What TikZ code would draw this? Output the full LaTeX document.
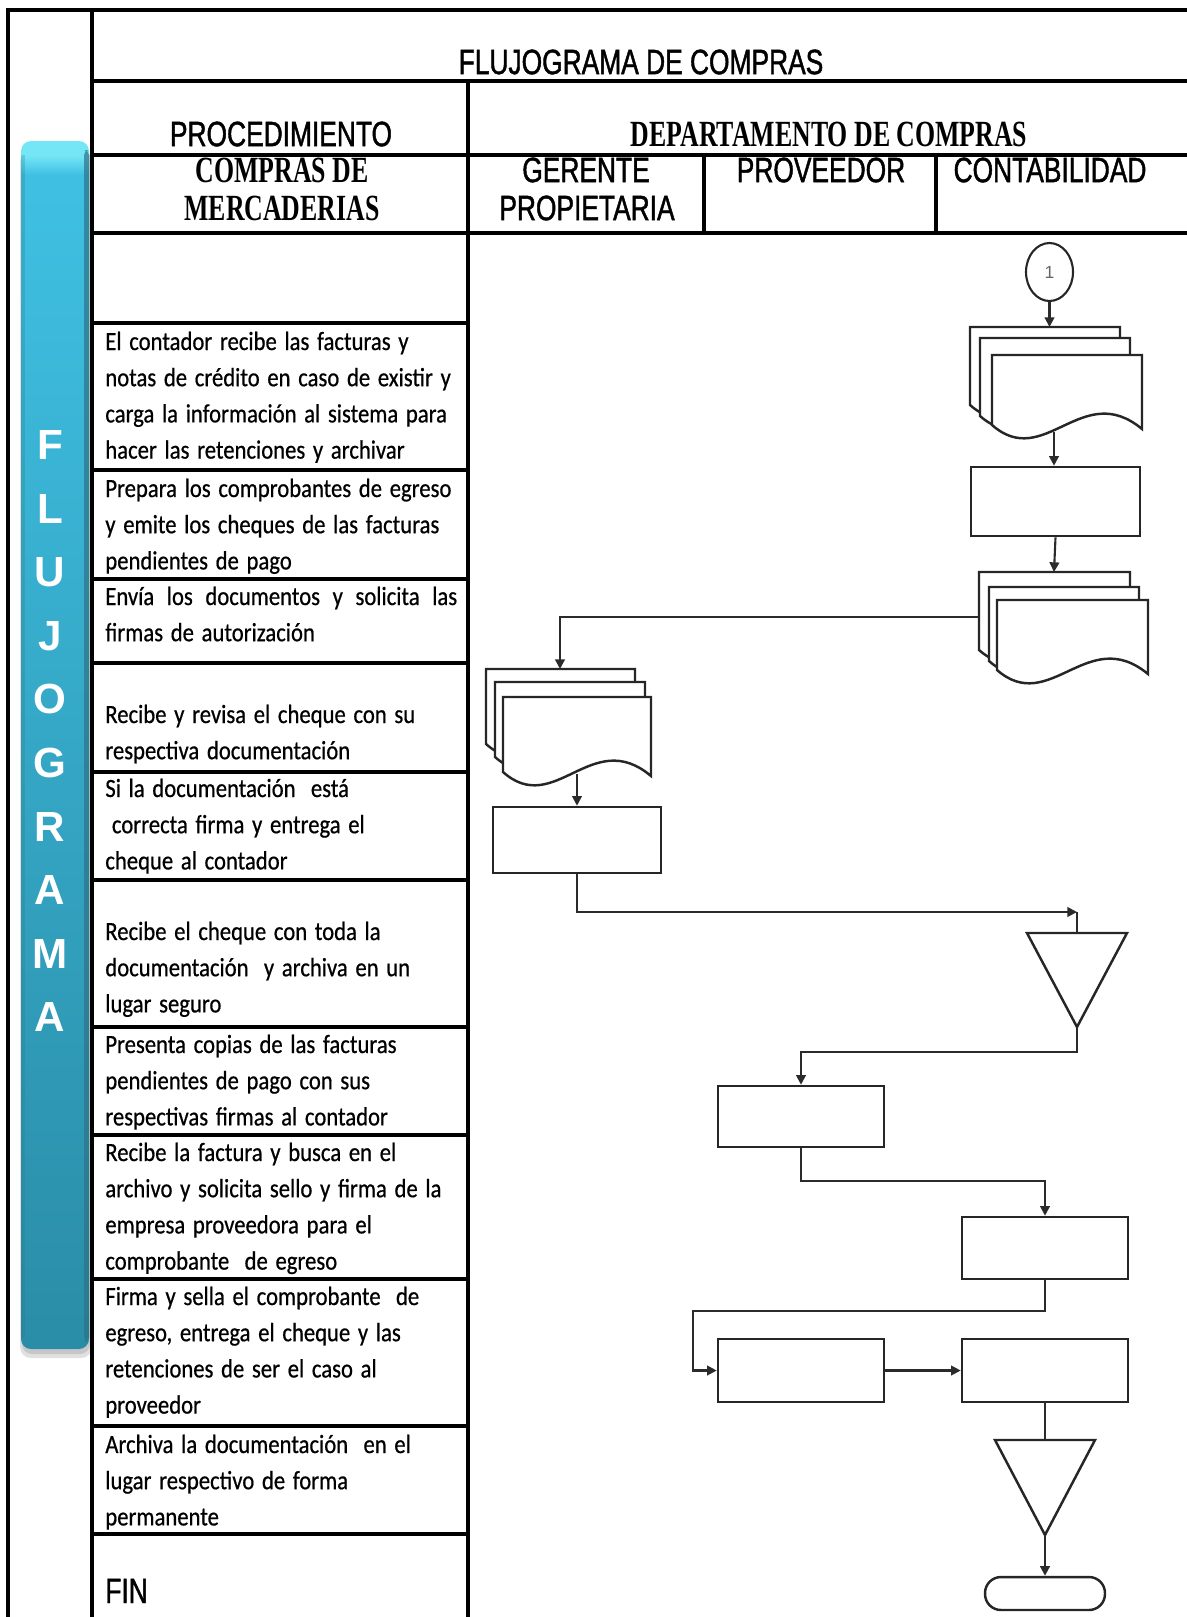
\documentclass[tikz,border=0pt]{standalone}
\usepackage{fontspec}
\setmainfont{Liberation Sans}
\newfontfamily\hsans[FakeStretch=0.75,FakeBold=1.2]{Liberation Sans}
\newfontfamily\hserif[FakeStretch=0.70]{Liberation Serif}
\newfontfamily\bodyf[FakeStretch=0.86,WordSpace=1.5,FakeBold=0.6]{Carlito}
\usetikzlibrary{arrows.meta,shapes.geometric,calc}
\definecolor{barTop}{HTML}{3FC0E3}
\definecolor{barBot}{HTML}{2A8DA7}
\definecolor{barHi}{HTML}{74E6F6}
\definecolor{barEdge}{HTML}{2A7488}
\definecolor{lineC}{HTML}{2B2B2B}
\pgfdeclareverticalshading{barsh}{100bp}{color(0bp)=(barBot); color(25bp)=(barBot); color(73.6bp)=(barTop); color(74.4bp)=(barHi); color(100bp)=(barHi)}
\tikzset{
 tline/.style={line width=2.2pt, line cap=rect},
 hs/.style={font=\hsans\fontsize{20}{24}\selectfont, inner sep=0pt},
 hsr/.style={font=\hserif\bfseries\fontsize{21}{25}\selectfont, inner sep=0pt},
 body/.style={anchor=base west, inner sep=0pt, font=\bodyf\fontsize{15}{20.6}\selectfont},
 proc/.style={draw=black!85, line width=1.5pt, fill=white, minimum width=3.32cm, minimum height=1.26cm, inner sep=0pt},
 conn/.style={draw=lineC, line width=1.2pt},
 arr/.style={conn, -{Triangle[length=5.5pt,width=5.5pt]}},
 sheet/.style={draw=black!85, line width=1.4pt, fill=white, line join=miter},
 tri/.style={draw=black!85, line width=1.4pt, fill=white},
 barletter/.style={text=white, font=\bfseries\fontsize{24}{28}\selectfont, inner sep=0pt},
}
\newcommand{\docsheet}[4]{%
 \path[sheet] (#1,#2+#4) -- (#1,#2) -- (#1+#3,#2) -- (#1+#3,#2+#4+4) .. controls (#1+0.6*#3,#2+#4-46) and (#1+0.35*#3,#2+#4+46) .. (#1,#2+#4) -- cycle;}
\begin{document}
\begin{tikzpicture}[x=0.02cm,y=-0.02cm]
\useasboundingbox (0,0) rectangle (1187,1617);
% ---------- blue bar ----------
\fill[black!12, rounded corners=0.22cm] (20,150) rectangle (92,1358);
\fill[black!22, rounded corners=0.2cm] (22,148) rectangle (90,1354);
\shade[shading=barsh, rounded corners=0.2cm] (21,141) rectangle (89,1349);
\fill[barEdge, opacity=0.7, rounded corners=0.1cm] (84,150) rectangle (89,1342);
\fill[barEdge, opacity=0.25] (21,155) rectangle (25,1338);
\foreach \l [count=\i from 0] in {F,L,U,J,O,G,R,A,M,A}
  \node[barletter] (bar\i) at (50,{445+63.6*\i}) {\l};
% ---------- table ----------
\draw[tline] (8,1617) -- (8,10) -- (1187,10);
\draw[tline] (92,10) -- (92,1617);
\draw[tline] (92,81) -- (1187,81);
\draw[tline] (468,81) -- (468,1617);
\draw[tline] (92,155) -- (1187,155);
\draw[tline] (704,155) -- (704,233);
\draw[tline] (936,155) -- (936,233);
\draw[tline] (92,233) -- (1187,233);
\foreach \yy in {323,470,579,663,772,880,1027,1135,1279,1426,1534}
  \draw[tline] (92,\yy) -- (468,\yy);
% ---------- headings ----------
\node[hs] (title) at (641,62) {FLUJOGRAMA DE COMPRAS};
\node[hs] (hproc) at (281,134) {PROCEDIMIENTO};
\node[hsr] (hdep) at (829,134) {DEPARTAMENTO DE COMPRAS};
\node[hsr] (hcomp1) at (282,170) {COMPRAS DE};
\node[hsr] (hcomp2) at (282,208) {MERCADERIAS};
\node[hs] (hger1) at (586,170) {GERENTE};
\node[hs] (hger2) at (587,208) {PROPIETARIA};
\node[hs] (hprov) at (821,170) {PROVEEDOR};
\node[hs] (hcont) at (1050,170) {CONTABILIDAD};
% ---------- procedure text ----------
\node[body] (p2) at (105,350) {\begin{tabular}[t]{@{}l@{}}El contador recibe las facturas y\\ notas de crédito en caso de existir y\\ carga la información al sistema para\\ hacer las retenciones y archivar\end{tabular}};
\node[body] (p3) at (105,497) {\begin{tabular}[t]{@{}l@{}}Prepara los comprobantes de egreso\\ y emite los cheques de las facturas\\ pendientes de pago\end{tabular}};
\node[body] (p4) at (105,605) {\begin{tabular}[t]{@{}l@{}}\makebox[7.04cm][s]{Envía los documentos y solicita las}\\ firmas de autorización\end{tabular}};
\node[body] (p5) at (105,723) {\begin{tabular}[t]{@{}l@{}}Recibe y revisa el cheque con su\\ respectiva documentación\end{tabular}};
\node[body] (p6) at (105,797) {\begin{tabular}[t]{@{}l@{}}Si la documentación \ está\\ \hspace{0.25em}correcta firma y entrega el\\ cheque al contador\end{tabular}};
\node[body] (p7) at (105,940) {\begin{tabular}[t]{@{}l@{}}Recibe el cheque con toda la\\ documentación \ y archiva en un\\ lugar seguro\end{tabular}};
\node[body] (p8) at (105,1053) {\begin{tabular}[t]{@{}l@{}}Presenta copias de las facturas\\ pendientes de pago con sus\\ respectivas firmas al contador\end{tabular}};
\node[body] (p9) at (105,1161) {\begin{tabular}[t]{@{}l@{}}Recibe la factura y busca en el\\ archivo y solicita sello y firma de la\\ empresa proveedora para el\\ comprobante \ de egreso\end{tabular}};
\node[body] (p10) at (105,1305) {\begin{tabular}[t]{@{}l@{}}Firma y sella el comprobante \ de\\ egreso, entrega el cheque y las\\ retenciones de ser el caso al\\ proveedor\end{tabular}};
\node[body] (p11) at (105,1453) {\begin{tabular}[t]{@{}l@{}}Archiva la documentación \ en el\\ lugar respectivo de forma\\ permanente\end{tabular}};
\node[hs, anchor=base west] (fin) at (105,1603) {FIN};
% ---------- flowchart ----------
\node[draw=black!85, line width=1.2pt, ellipse, minimum width=0.94cm, minimum height=1.16cm, inner sep=0pt, font=\fontsize{10}{12}\selectfont, text=black!60] (c1) at (1049.5,272) {1};
% multi-document 1
\docsheet{970}{327}{150}{78}
\docsheet{980}{338}{150}{78}
\docsheet{992}{355}{150}{70}
\coordinate (md1top) at (1049.5,327);
\coordinate (md1bot) at (1054,432);
\node[proc, minimum width=3.38cm, minimum height=1.38cm] (r1) at (1055.5,501.5) {};
% multi-document 2
\docsheet{979}{572}{151}{78}
\docsheet{989}{587}{150}{74}
\docsheet{997}{600}{151}{70}
\coordinate (md2top) at (1054,572);
\coordinate (md2left) at (979,617);
\coordinate (j0) at (560,617);
% multi-document 3
\docsheet{486}{669}{149}{75}
\docsheet{495}{682}{150}{75}
\docsheet{503}{697}{148}{75}
\coordinate (md3top) at (560,669);
\coordinate (md3bot) at (577,774);
\node[proc, minimum width=3.36cm, minimum height=1.32cm] (r2) at (577,840) {};
% triangle 1
\path[tri] (1027,933) -- (1127,933) -- (1077,1027) -- cycle;
\coordinate (t1top) at (1077,933);
\coordinate (t1apex) at (1077,1027);
\coordinate (t1in) at (1077,912);
\node[proc, minimum height=1.22cm] (r3) at (801,1116.5) {};
\node[proc, minimum height=1.24cm] (r4) at (1045,1248) {};
\node[proc] (r5) at (801,1370.5) {};
\node[proc] (r6) at (1045,1370.5) {};
% triangle 2
\path[tri] (995,1440) -- (1095,1440) -- (1045,1535) -- cycle;
\coordinate (t2top) at (1045,1440);
\coordinate (t2apex) at (1045,1535);
\node[draw=black!85, line width=1.4pt, fill=white, rounded corners=0.32cm, minimum width=2.4cm, minimum height=0.66cm, inner sep=0pt] (term) at (1045,1593.5) {};
\coordinate (j1) at (1077,1052);
\coordinate (j2) at (801,1181);
\coordinate (j3) at (1045,1311);
\coordinate (j4) at (693,1311);
% connectors
\draw[arr] (c1.south) -- (md1top);
\draw[arr] (md1bot) -- (md1bot |- r1.north);
\draw[arr] (r1.south) -- (md2top);
\draw[arr] (md2left) -- (j0) -- (md3top);
\draw[arr] (md3bot) -- (r2.north);
\draw[arr] (r2.south) |- (t1in);
\draw[conn] (t1in) -- (t1top);
\draw[arr] (t1apex) -- (j1) -| (r3.north);
\draw[arr] (r3.south) -- (j2) -| (r4.north);
\draw[arr] (r4.south) -- (j3) -- (j4) |- (r5.west);
\draw[arr] (r5.east) -- (r6.west);
\draw[conn] (r6.south) -- (t2top);
\draw[arr] (t2apex) -- (term.north);
\end{tikzpicture}
\end{document}
